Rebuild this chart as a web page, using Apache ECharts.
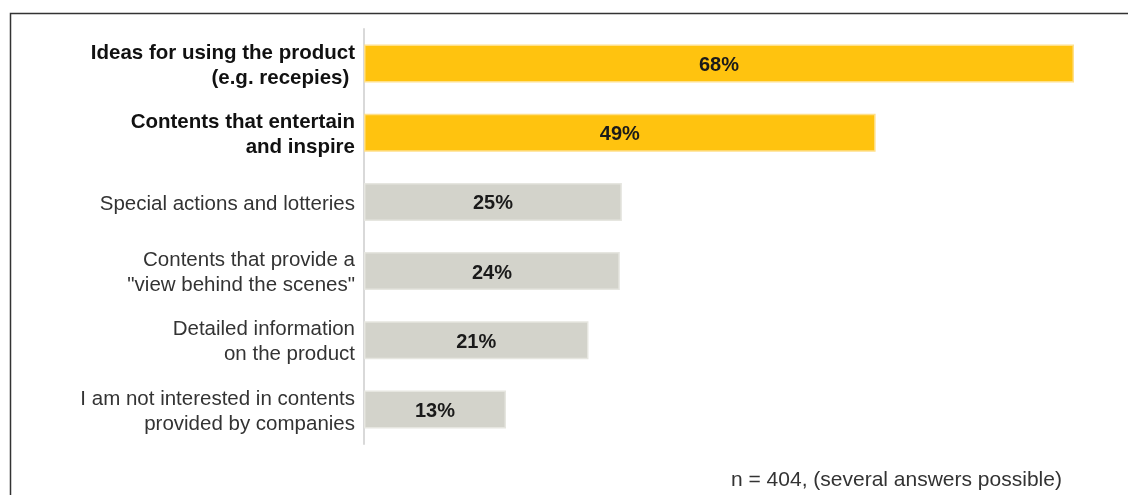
<!DOCTYPE html>
<html><head><meta charset="utf-8">
<script src="https://cdn.jsdelivr.net/npm/echarts@6/dist/echarts.min.js"></script>
<style>html,body{margin:0;padding:0;background:#fff}#c{width:1128px;height:495px}</style>
</head><body><div id="c"></div>
<script>
const categories = [
  'Ideas for using the product\n(e.g. recepies) ',
  'Contents that entertain\nand inspire',
  'Special actions and lotteries',
  'Contents that provide a\n"view behind the scenes"',
  'Detailed information\non the product',
  'I am not interested in contents\nprovided by companies'
];
const values = [68, 49, 24.7, 24.5, 21.5, 13.6];
const valueLabels = ['68%', '49%', '25%', '24%', '21%', '13%'];
const highlighted = [true, true, false, false, false, false];
const footnote = 'n = 404, (several answers possible)';

const FONT = 'Liberation Sans, Arial, sans-serif';
const yellow = '#FFC30F', yellowEdge = '#FFE08A';
const gray = '#D3D3CB', grayEdge = '#E6E6E0';

const chart = echarts.init(document.getElementById('c'), null, {renderer: 'canvas'});
chart.setOption({
  animation: false,
  grid: {left: 364, right: 54, top: 29, height: 415, containLabel: false},
  xAxis: {type: 'value', min: 0, max: 68, show: false},
  yAxis: {
    type: 'category', data: categories, inverse: true,
    axisLine: {show: true, lineStyle: {color: '#D9D9D9', width: 2}},
    axisTick: {show: false},
    axisLabel: {
      margin: 9, fontFamily: FONT, padding: [4, 0, 0, 0],
      fontSize: 20.5, color: '#333', lineHeight: 25, align: 'right',
      formatter: function (v, i) {
        return highlighted[i] ? v.split('\n').map(s => '{b|' + s + '}').join('\n') : v;
      },
      rich: {b: {fontWeight: 'bold', color: '#111', fontSize: 20.5, lineHeight: 25, fontFamily: FONT}}
    }
  },
  series: [{
    type: 'bar', barWidth: 38,
    data: values.map((v, i) => ({
      value: v,
      itemStyle: {
        color: highlighted[i] ? yellow : gray,
        borderColor: highlighted[i] ? yellowEdge : grayEdge,
        borderWidth: 1.5
      }
    })),
    label: {
      show: true, position: 'inside', offset: [0, 2],
      formatter: p => valueLabels[p.dataIndex],
      fontFamily: FONT, fontSize: 20, fontWeight: 'bold', color: '#1a1a1a'
    }
  }],
  graphic: [
    {type: 'rect', shape: {x: 10.5, y: 13.5, width: 1130, height: 500},
     style: {fill: 'none', stroke: '#333', lineWidth: 1.5}, silent: true},
    {type: 'text', left: 731, top: 470,
     style: {text: footnote, fontFamily: FONT, fontSize: 21, fill: '#333'}}
  ]
});
</script></body></html>
